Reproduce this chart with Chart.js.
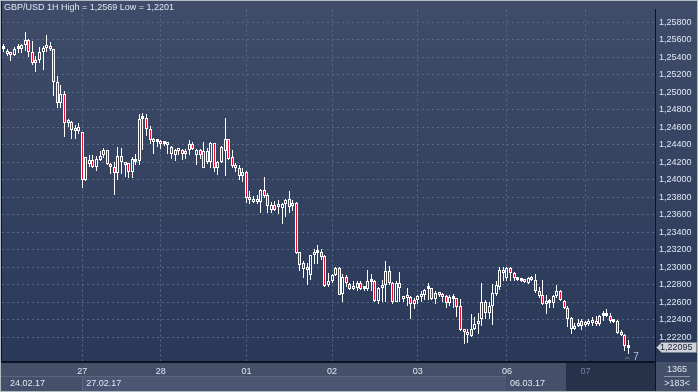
<!DOCTYPE html>
<html>
<head>
<meta charset="utf-8">
<title>GBP/USD 1H</title>
<script src="https://cdn.jsdelivr.net/npm/chart.js@4.4.0/dist/chart.umd.min.js"></script>
<style>
    html, body { margin: 0; padding: 0; background: #3b4965; overflow: hidden; }
    canvas { display: block; }
</style>
</head>
<body>
<canvas id="candleChart" width="698" height="392"></canvas>
<script>
// GBP/USD 1H, 24.02.17 - 07.03.17, gia doc tu anh
const chartTitle = 'GBP/USD 1H High = 1,2569 Low = 1,2201';

const openData = [
    1.2549, 1.2546, 1.2543, 1.2542, 1.2549, 1.2549, 1.2554, 1.2560, 1.2546, 1.2533,
    1.2537, 1.2546, 1.2551, 1.2553, 1.2549, 1.2512, 1.2488, 1.2498, 1.2465, 1.2466,
    1.2458, 1.2456, 1.2454, 1.2400, 1.2418, 1.2423, 1.2415, 1.2423, 1.2428, 1.2434,
    1.2417, 1.2415, 1.2408, 1.2427, 1.2417, 1.2419, 1.2409, 1.2420, 1.2422, 1.2469,
    1.2471, 1.2458, 1.2443, 1.2443, 1.2443, 1.2441, 1.2442, 1.2430, 1.2428, 1.2433,
    1.2434, 1.2432, 1.2434, 1.2441, 1.2428, 1.2434, 1.2413, 1.2433, 1.2420, 1.2442,
    1.2414, 1.2420, 1.2433, 1.2446, 1.2426, 1.2417, 1.2413, 1.2404, 1.2409, 1.2380,
    1.2375, 1.2378, 1.2375, 1.2388, 1.2383, 1.2366, 1.2371, 1.2369, 1.2368, 1.2372,
    1.2378, 1.2370, 1.2374, 1.2317, 1.2305, 1.2297, 1.2291, 1.2314, 1.2316, 1.2318,
    1.2313, 1.2280, 1.2284, 1.2291, 1.2299, 1.2270, 1.2289, 1.2281, 1.2275, 1.2277,
    1.2282, 1.2275, 1.2275, 1.2283, 1.2284, 1.2262, 1.2277, 1.2280, 1.2296, 1.2282,
    1.2260, 1.2277, 1.2264, 1.2265, 1.2266, 1.2263, 1.2263, 1.2266, 1.2269, 1.2275,
    1.2276, 1.2264, 1.2268, 1.2270, 1.2267, 1.2259, 1.2264, 1.2265, 1.2256, 1.2229,
    1.2223, 1.2230, 1.2230, 1.2235, 1.2241, 1.2261, 1.2248, 1.2256, 1.2270, 1.2278,
    1.2297, 1.2288, 1.2299, 1.2294, 1.2286, 1.2285, 1.2285, 1.2282, 1.2289, 1.2286,
    1.2273, 1.2269, 1.2258, 1.2259, 1.2259, 1.2267, 1.2273, 1.2262, 1.2254, 1.2242,
    1.2230, 1.2233, 1.2239, 1.2234, 1.2235, 1.2237, 1.2239, 1.2235, 1.2244, 1.2244,
    1.2245, 1.2238, 1.2239, 1.2226, 1.2223, 1.2208
];
const highData = [
    1.2555, 1.2549, 1.2546, 1.2552, 1.2555, 1.2555, 1.2569, 1.2561, 1.2558, 1.2541,
    1.2552, 1.2553, 1.2565, 1.2557, 1.2549, 1.2518, 1.2508, 1.2501, 1.2469, 1.2467,
    1.2463, 1.2465, 1.2454, 1.2426, 1.2428, 1.2428, 1.2427, 1.2433, 1.2436, 1.2434,
    1.2419, 1.2420, 1.2437, 1.2436, 1.2420, 1.2419, 1.2426, 1.2430, 1.2475, 1.2476,
    1.2475, 1.2461, 1.2448, 1.2447, 1.2445, 1.2443, 1.2443, 1.2439, 1.2435, 1.2435,
    1.2435, 1.2435, 1.2445, 1.2443, 1.2435, 1.2435, 1.2443, 1.2436, 1.2443, 1.2442,
    1.2422, 1.2439, 1.2471, 1.2446, 1.2434, 1.2419, 1.2417, 1.2413, 1.2410, 1.2387,
    1.2381, 1.2383, 1.2390, 1.2403, 1.2385, 1.2375, 1.2376, 1.2377, 1.2374, 1.2378,
    1.2387, 1.2377, 1.2375, 1.2318, 1.2307, 1.2305, 1.2314, 1.2321, 1.2325, 1.2321,
    1.2314, 1.2294, 1.2293, 1.2301, 1.2301, 1.2292, 1.2291, 1.2282, 1.2285, 1.2284,
    1.2284, 1.2278, 1.2297, 1.2293, 1.2286, 1.2278, 1.2286, 1.2307, 1.2302, 1.2283,
    1.2285, 1.2295, 1.2267, 1.2276, 1.2267, 1.2265, 1.2269, 1.2273, 1.2275, 1.2282,
    1.2276, 1.2273, 1.2271, 1.2271, 1.2269, 1.2268, 1.2270, 1.2265, 1.2264, 1.2230,
    1.2230, 1.2247, 1.2243, 1.2248, 1.2282, 1.2263, 1.2260, 1.2281, 1.2285, 1.2301,
    1.2301, 1.2300, 1.2300, 1.2295, 1.2289, 1.2288, 1.2287, 1.2289, 1.2290, 1.2293,
    1.2278, 1.2286, 1.2268, 1.2264, 1.2269, 1.2280, 1.2274, 1.2263, 1.2256, 1.2243,
    1.2237, 1.2241, 1.2241, 1.2239, 1.2241, 1.2243, 1.2245, 1.2246, 1.2250, 1.2252,
    1.2248, 1.2241, 1.2240, 1.2228, 1.2224, 1.2217
];
const lowData = [
    1.2546, 1.2541, 1.2536, 1.2541, 1.2545, 1.2545, 1.2547, 1.2540, 1.2531, 1.2523,
    1.2533, 1.2525, 1.2546, 1.2547, 1.2496, 1.2482, 1.2482, 1.2449, 1.2460, 1.2447,
    1.2447, 1.2452, 1.2391, 1.2399, 1.2415, 1.2413, 1.2410, 1.2421, 1.2425, 1.2417,
    1.2407, 1.2383, 1.2400, 1.2407, 1.2403, 1.2402, 1.2402, 1.2417, 1.2417, 1.2434,
    1.2450, 1.2441, 1.2430, 1.2437, 1.2435, 1.2439, 1.2430, 1.2424, 1.2422, 1.2428,
    1.2423, 1.2424, 1.2428, 1.2434, 1.2417, 1.2424, 1.2413, 1.2418, 1.2413, 1.2409,
    1.2405, 1.2419, 1.2404, 1.2423, 1.2413, 1.2409, 1.2400, 1.2398, 1.2374, 1.2372,
    1.2374, 1.2372, 1.2362, 1.2379, 1.2362, 1.2362, 1.2364, 1.2361, 1.2349, 1.2358,
    1.2362, 1.2364, 1.2315, 1.2296, 1.2288, 1.2280, 1.2286, 1.2304, 1.2304, 1.2308,
    1.2278, 1.2278, 1.2282, 1.2290, 1.2268, 1.2260, 1.2278, 1.2274, 1.2274, 1.2273,
    1.2274, 1.2273, 1.2273, 1.2273, 1.2261, 1.2258, 1.2261, 1.2261, 1.2280, 1.2258,
    1.2260, 1.2261, 1.2260, 1.2256, 1.2241, 1.2253, 1.2258, 1.2261, 1.2263, 1.2263,
    1.2263, 1.2258, 1.2266, 1.2261, 1.2254, 1.2256, 1.2254, 1.2243, 1.2227, 1.2213,
    1.2214, 1.2221, 1.2228, 1.2224, 1.2233, 1.2241, 1.2241, 1.2234, 1.2267, 1.2274,
    1.2285, 1.2285, 1.2285, 1.2284, 1.2284, 1.2283, 1.2282, 1.2281, 1.2285, 1.2271,
    1.2265, 1.2257, 1.2247, 1.2254, 1.2254, 1.2265, 1.2262, 1.2253, 1.2232, 1.2224,
    1.2228, 1.2232, 1.2228, 1.2232, 1.2233, 1.2233, 1.2233, 1.2233, 1.2239, 1.2243,
    1.2237, 1.2237, 1.2224, 1.2222, 1.2204, 1.2201
];
const closeData = [
    1.2550, 1.2544, 1.2542, 1.2549, 1.2551, 1.2554, 1.2560, 1.2546, 1.2533, 1.2537,
    1.2546, 1.2551, 1.2553, 1.2549, 1.2512, 1.2488, 1.2498, 1.2465, 1.2467, 1.2457,
    1.2456, 1.2460, 1.2400, 1.2426, 1.2423, 1.2415, 1.2424, 1.2427, 1.2434, 1.2418,
    1.2415, 1.2408, 1.2427, 1.2420, 1.2419, 1.2409, 1.2424, 1.2422, 1.2469, 1.2471,
    1.2458, 1.2445, 1.2445, 1.2444, 1.2441, 1.2442, 1.2440, 1.2437, 1.2434, 1.2435,
    1.2430, 1.2430, 1.2441, 1.2435, 1.2434, 1.2428, 1.2433, 1.2420, 1.2442, 1.2414,
    1.2420, 1.2437, 1.2446, 1.2424, 1.2416, 1.2413, 1.2404, 1.2409, 1.2379, 1.2377,
    1.2378, 1.2375, 1.2388, 1.2382, 1.2370, 1.2371, 1.2366, 1.2371, 1.2372, 1.2377,
    1.2369, 1.2374, 1.2316, 1.2303, 1.2298, 1.2299, 1.2314, 1.2317, 1.2318, 1.2312,
    1.2279, 1.2284, 1.2291, 1.2299, 1.2269, 1.2289, 1.2282, 1.2275, 1.2279, 1.2282,
    1.2275, 1.2277, 1.2284, 1.2284, 1.2262, 1.2277, 1.2279, 1.2296, 1.2282, 1.2260,
    1.2282, 1.2282, 1.2266, 1.2267, 1.2258, 1.2258, 1.2267, 1.2269, 1.2274, 1.2276,
    1.2264, 1.2271, 1.2271, 1.2266, 1.2259, 1.2266, 1.2265, 1.2255, 1.2228, 1.2226,
    1.2226, 1.2222, 1.2235, 1.2239, 1.2261, 1.2248, 1.2256, 1.2271, 1.2280, 1.2297,
    1.2294, 1.2299, 1.2294, 1.2288, 1.2287, 1.2286, 1.2283, 1.2288, 1.2286, 1.2273,
    1.2267, 1.2258, 1.2261, 1.2260, 1.2267, 1.2273, 1.2263, 1.2254, 1.2241, 1.2230,
    1.2233, 1.2237, 1.2233, 1.2236, 1.2239, 1.2239, 1.2235, 1.2245, 1.2245, 1.2245,
    1.2239, 1.2239, 1.2225, 1.2223, 1.2210, 1.22095
];

// truc gia (phai) va truc thoi gian
const priceTicks = [1.222, 1.224, 1.226, 1.228, 1.230, 1.232, 1.234, 1.236, 1.238,
    1.240, 1.242, 1.244, 1.246, 1.248, 1.250, 1.252, 1.254, 1.256, 1.258];
const dayTicks = [22, 44, 68, 92, 116, 141, 163];      // nen dau tien cua moi ngay
const dayLabels = ['27', '28', '01', '02', '03', '06', '07'];
const dateLabels = ['24.02.17', '27.02.17', '06.03.17'];
const dateTicks = [0, 22, 141];
const visibleBars = 183;
const totalBars = 1365;

const upColor = 'rgba(0,0,0,0)';
const downColor = '#e3122f';
const gridColor = '#5a6987';
const textColor = '#dfe7f2';
const fontName = "'Liberation Sans', Arial, sans-serif";

Chart.defaults.font.family = fontName;
Chart.defaults.font.size = 9;

const labels = [];
for (let i = 0; i < visibleBars; i++) labels.push('');
dayTicks.forEach((idx, k) => { labels[idx] = dayLabels[k]; });

const bodies = [], upperWicks = [], lowerWicks = [], bodyColors = [];
for (let i = 0; i < openData.length; i++) {
    const top = Math.max(openData[i], closeData[i]);
    const bottom = Math.min(openData[i], closeData[i]);
    bodies.push([bottom, top]);
    upperWicks.push([top, highData[i]]);
    lowerWicks.push([lowData[i], bottom]);
    bodyColors.push(closeData[i] < openData[i] ? downColor : upColor);
}

// can nen vao luoi pixel cho net
const snapPlugin = {
    id: 'snap',
    afterDatasetsUpdate(chart) {
        chart.data.datasets.forEach((ds, i) => {
            chart.getDatasetMeta(i).data.forEach(el => {
                el.x = Math.floor(el.x) + 0.5;
                el.y = Math.round(el.y);
                el.base = Math.round(el.base);
                if (i === 0 && Math.abs(el.base - el.y) < 3) el.y = el.base - 3;
            });
        });
    }
};

const panelPlugin = {
    id: 'panels',
    beforeDraw(chart) {
        const { ctx, chartArea: a, scales: { x } } = chart;
        const w = chart.width, h = chart.height;
        ctx.save();
        const g = ctx.createLinearGradient(0, a.top, 0, a.bottom);
        g.addColorStop(0, '#3e4c69');
        g.addColorStop(1, '#2b3959');
        ctx.fillStyle = g;
        ctx.fillRect(0, 0, w, a.bottom);
        // thanh thoi gian
        ctx.fillStyle = '#44506a';
        ctx.fillRect(0, a.bottom, w, h - a.bottom);
        const x27 = Math.floor(x.getPixelForValue(dateTicks[1]));
        const x06 = Math.floor(x.getPixelForValue(dateTicks[2]));
        ctx.fillStyle = '#4b5772';
        ctx.fillRect(x27, a.bottom + 15, x06 - x27, h - a.bottom - 15);
        ctx.fillStyle = '#5a6680';
        ctx.fillRect(0, a.bottom + 14, x06, 1);
        ctx.fillRect(x27, a.bottom + 14, 1, h - a.bottom - 14);
        ctx.fillStyle = '#27324a';
        const xDark = Math.floor(x.getPixelForValue(157) + 2);
        ctx.fillRect(xDark, a.bottom, a.right - xDark, h - a.bottom);
        ctx.restore();
    },
    afterDraw(chart) {
        const { ctx, chartArea: a, scales: { x, y } } = chart;
        const w = chart.width, h = chart.height;
        ctx.save();
        ctx.font = '9px ' + fontName;
        ctx.textBaseline = 'middle';

        // tieu de
        ctx.fillStyle = textColor;
        ctx.textAlign = 'left';
        ctx.fillText(chartTitle, 4, 8);

        // hang ngay thang
        ctx.fillText(dateLabels[0], 10, a.bottom + 22);
        ctx.fillText(dateLabels[1], x.getPixelForValue(dateTicks[1]) + 4, a.bottom + 22);
        ctx.fillText(dateLabels[2], x.getPixelForValue(dateTicks[2]) + 3, a.bottom + 22);

        // duong vien
        ctx.fillStyle = '#0c1322';
        ctx.fillRect(a.right, a.bottom, 1, h - a.bottom);
        ctx.fillRect(1, 0, 1, a.bottom);
        ctx.fillStyle = '#b4bac4';
        ctx.fillRect(0, 0, 1, h);
        ctx.fillRect(0, h - 1, w, 1);
        ctx.fillRect(0, 0, w, 1);
        ctx.fillRect(w - 1, 0, 1, h);

        // o so luong nen
        ctx.fillStyle = textColor;
        ctx.textAlign = 'center';
        ctx.fillText(String(totalBars), 677, a.bottom + 8);
        ctx.fillText('>' + visibleBars + '<', 677, a.bottom + 22);
        ctx.fillStyle = '#8c97ad';
        ctx.fillRect(664, a.bottom + 14, 26, 1);

        // nhan gia hien tai
        const last = closeData[closeData.length - 1];
        const yl = Math.round(y.getPixelForValue(last)) + 0.5;
        ctx.beginPath();
        ctx.moveTo(a.right + 1.5, yl);
        ctx.lineTo(a.right + 6.5, yl - 5);
        ctx.lineTo(w - 1.5, yl - 5);
        ctx.lineTo(w - 1.5, yl + 5);
        ctx.lineTo(a.right + 6.5, yl + 5);
        ctx.closePath();
        ctx.fillStyle = '#cfd3d9';
        ctx.fill();
        ctx.strokeStyle = '#7a8290';
        ctx.lineWidth = 1;
        ctx.stroke();
        ctx.fillStyle = '#1c2330';
        ctx.textAlign = 'left';
        ctx.fillText(last.toFixed(5).replace('.', ','), a.right + 5, yl + 0.5);

        // bo dem nen cuoi
        const xl = x.getPixelForValue(openData.length - 1);
        ctx.fillStyle = '#525e74';
        ctx.beginPath();
        ctx.moveTo(xl - 4, a.bottom - 3);
        ctx.lineTo(xl + 2, a.bottom - 3);
        ctx.lineTo(xl - 1, a.bottom - 6);
        ctx.closePath();
        ctx.fill();
        ctx.fillStyle = '#a9c4ec';
        ctx.font = '10px ' + fontName;
        ctx.fillText('7', xl + 5, a.bottom - 5);
        ctx.restore();
    }
};

const ctx = document.getElementById('candleChart').getContext('2d');
const candleChart = new Chart(ctx, {
    type: 'bar',
    data: {
        labels: labels,
        datasets: [
            {
                label: 'body',
                data: bodies,
                backgroundColor: bodyColors,
                borderColor: '#ffffff',
                borderWidth: 1,
                borderSkipped: false,
                barThickness: 3,
                minBarLength: 3,
                inflateAmount: 0,
                grouped: false,
            },
            {
                label: 'upper',
                data: upperWicks,
                backgroundColor: '#ffffff',
                borderWidth: 0,
                barThickness: 1,
                inflateAmount: 0,
                grouped: false,
            },
            {
                label: 'lower',
                data: lowerWicks,
                backgroundColor: '#ffffff',
                borderWidth: 0,
                barThickness: 1,
                inflateAmount: 0,
                grouped: false,
            }
        ]
    },
    options: {
        responsive: false,
        animation: false,
        events: [],
        layout: { padding: { left: 2, top: 2, right: 0, bottom: 0 } },
        plugins: {
            legend: { display: false },
            tooltip: { enabled: false },
        },
        scales: {
            x: {
                offset: true,
                afterBuildTicks: (axis) => { axis.ticks = dayTicks.map(i => ({ value: i })); },
                afterFit: (axis) => { axis.height = 30; },
                grid: { color: gridColor, offset: false, drawTicks: false },
                border: { color: '#0c1322', width: 2, dash: [2, 3] },
                ticks: {
                    autoSkip: false,
                    maxRotation: 0,
                    padding: 4,
                    color: (c) => c.index === dayTicks.length - 1 ? '#6f80a0' : textColor,
                    callback: (value) => labels[value],
                }
            },
            y: {
                position: 'right',
                min: 1.2192,
                max: 1.25945,
                afterBuildTicks: (axis) => { axis.ticks = priceTicks.map(v => ({ value: v })); },
                afterFit: (axis) => { axis.width = 43; },
                grid: { color: gridColor, drawTicks: false },
                border: { color: '#0c1322', width: 1, dash: [2, 3] },
                ticks: {
                    color: textColor,
                    padding: 4,
                    callback: (value) => value.toFixed(5).replace('.', ','),
                }
            }
        }
    },
    plugins: [snapPlugin, panelPlugin]
});
</script>
</body>
</html>
